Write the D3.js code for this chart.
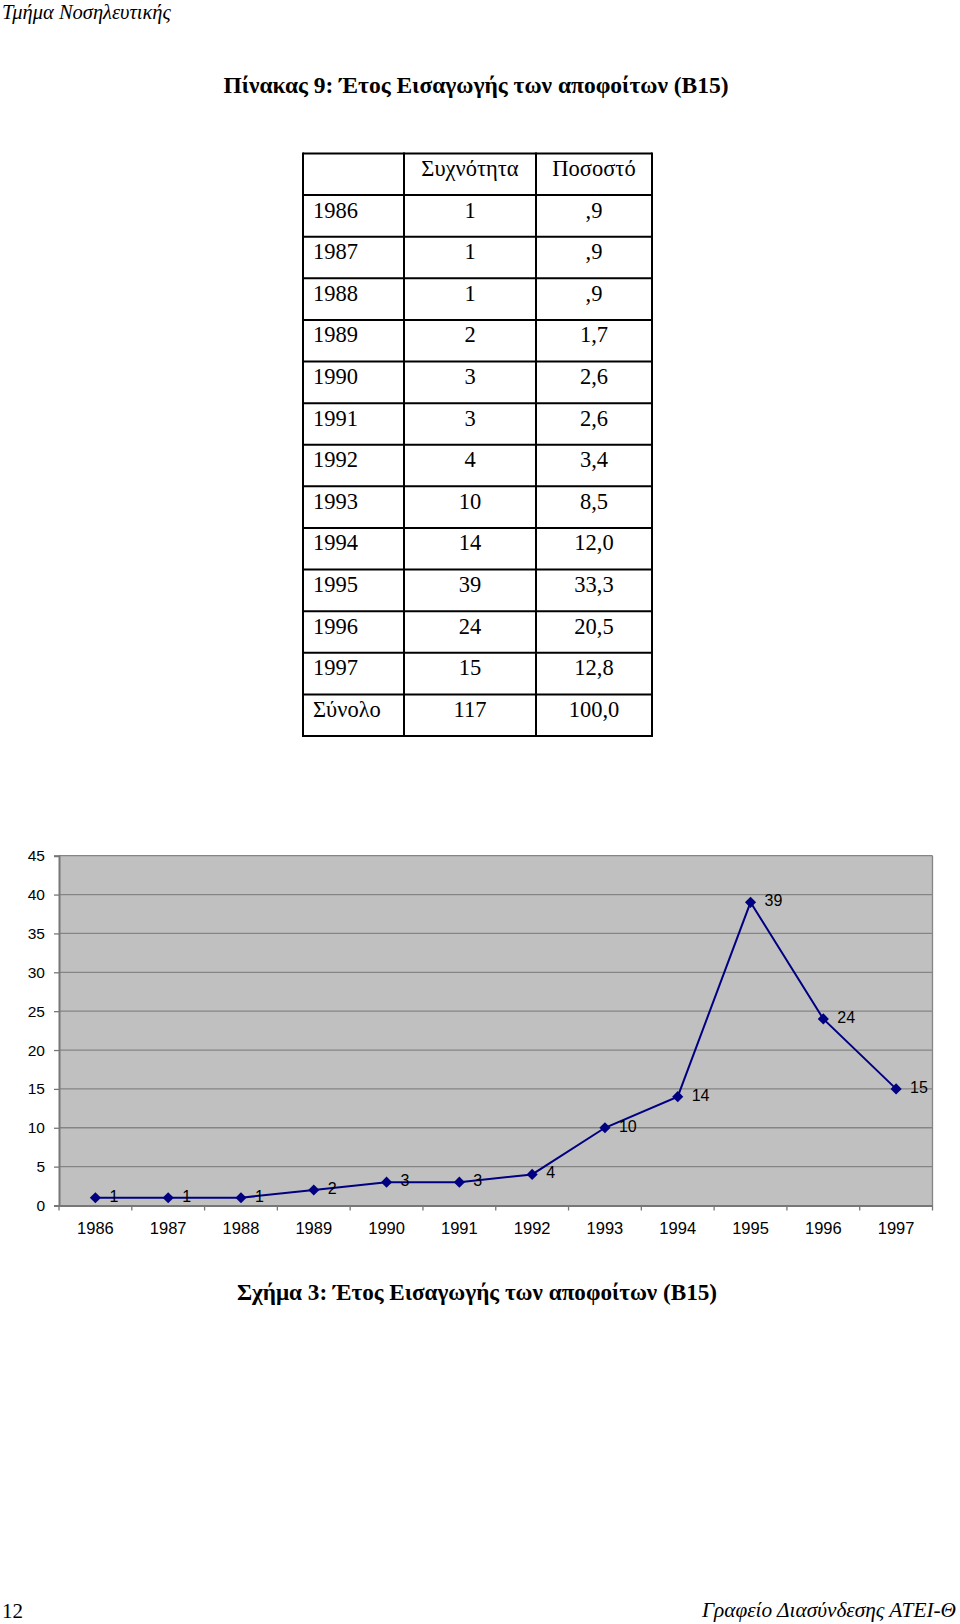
<!DOCTYPE html>
<html>
<head>
<meta charset="utf-8">
<script src="https://cdn.jsdelivr.net/npm/d3@7"></script>
<style>
  body { margin: 0; background: #fff; }
  svg { display: block; }
  .serif { font-family: "Liberation Serif", "Times New Roman", serif; }
  .sans { font-family: "Liberation Sans", Arial, sans-serif; }
</style>
</head>
<body>
<svg id="page" width="960" height="1624"></svg>
<script>
// data
const years = [1986, 1987, 1988, 1989, 1990, 1991, 1992, 1993, 1994, 1995, 1996, 1997];
const counts = [1, 1, 1, 2, 3, 3, 4, 10, 14, 39, 24, 15];
const percents = [0.9, 0.9, 0.9, 1.7, 2.6, 2.6, 3.4, 8.5, 12.0, 33.3, 20.5, 12.8];
const totalCount = 117;
const totalPercent = 100.0;
const tableHeader = ["", "Συχνότητα", "Ποσοστό"];
const totalLabel = "Σύνολο";
const yTicks = [0, 5, 10, 15, 20, 25, 30, 35, 40, 45];

const svg = d3.select("#page");
svg.append("rect").attr("width", 960).attr("height", 1624).attr("fill", "#fff");

// spss style number: ",9" / "12,0"
const fmtPct = v => d3.format(".1f")(v).replace(".", ",").replace(/^0,/, ",");

// page header / footer
svg.append("text").attr("class", "serif")
  .attr("x", 2).attr("y", 19)
  .attr("font-size", 20.5).attr("font-style", "italic")
  .text("Τμήμα Νοσηλευτικής");

svg.append("text").attr("class", "serif")
  .attr("x", 476).attr("y", 93)
  .attr("text-anchor", "middle")
  .attr("font-size", 23.5).attr("font-weight", "bold")
  .text("Πίνακας 9:  Έτος Εισαγωγής των αποφοίτων (Β15)");

svg.append("text").attr("class", "serif")
  .attr("x", 2).attr("y", 1618)
  .attr("font-size", 21)
  .text("12");

svg.append("text").attr("class", "serif")
  .attr("x", 956).attr("y", 1617)
  .attr("text-anchor", "end")
  .attr("font-size", 21.3).attr("font-style", "italic")
  .text("Γραφείο Διασύνδεσης ΑΤΕΙ-Θ");

// ---- table ----
const rows = [tableHeader]
  .concat(years.map((y, i) => [String(y), String(counts[i]), fmtPct(percents[i])]))
  .concat([[totalLabel, String(totalCount), fmtPct(totalPercent)]]);

const colEdges = [303, 404, 536, 652];
const rowY = d3.scaleBand().domain(d3.range(rows.length)).range([153.5, 736]);

const table = svg.append("g").attr("class", "serif").attr("font-size", 22.5);

const rowG = table.selectAll("g.row")
  .data(rows)
  .join("g")
  .attr("class", "row")
  .attr("transform", (d, i) => `translate(0,${rowY(i)})`);

rowG.each(function (row, ri) {
  const g = d3.select(this);
  row.forEach((txt, ci) => {
    const left = ci === 0 && ri > 0;
    g.append("text")
      .attr("x", left ? colEdges[0] + 10 : (colEdges[ci] + colEdges[ci + 1]) / 2)
      .attr("y", 22.5)
      .attr("text-anchor", left ? "start" : "middle")
      .attr("fill", "#000")
      .text(txt);
  });
});

// grid lines of the table
table.selectAll("line.h")
  .data(d3.range(rows.length + 1))
  .join("line")
  .attr("x1", colEdges[0]).attr("x2", colEdges[3])
  .attr("y1", i => i === rows.length ? rowY.range()[1] : rowY(i))
  .attr("y2", i => i === rows.length ? rowY.range()[1] : rowY(i))
  .attr("stroke", "#000").attr("stroke-width", 2);

table.selectAll("line.v")
  .data(colEdges)
  .join("line")
  .attr("x1", d => d).attr("x2", d => d)
  .attr("y1", rowY.range()[0] - 1).attr("y2", rowY.range()[1] + 1)
  .attr("stroke", "#000").attr("stroke-width", 2);

// ---- line chart ----
const x = d3.scaleBand().domain(years).range([59, 932.5]);
const y = d3.scaleLinear().domain([0, 45]).range([1205.5, 855.7]);

const chart = svg.append("g").attr("class", "sans");

chart.append("rect")
  .attr("x", x.range()[0]).attr("y", y(45))
  .attr("width", x.range()[1] - x.range()[0]).attr("height", y(0) - y(45))
  .attr("fill", "#c0c0c0");

chart.append("g")
  .selectAll("line")
  .data(yTicks.filter(t => t > 0))
  .join("line")
  .attr("x1", x.range()[0]).attr("x2", x.range()[1])
  .attr("y1", d => y(d)).attr("y2", d => y(d))
  .attr("stroke", "#858585").attr("stroke-width", 1.3);

// right border
chart.append("line")
  .attr("x1", x.range()[1]).attr("x2", x.range()[1])
  .attr("y1", y(45)).attr("y2", y(0))
  .attr("stroke", "#858585").attr("stroke-width", 1.3);

const yAxis = chart.append("g")
  .attr("transform", `translate(${x.range()[0]},0)`)
  .call(d3.axisLeft(y).tickValues(yTicks).tickSize(5).tickPadding(9));
yAxis.select(".domain").attr("stroke", "#777").attr("stroke-width", 2);
yAxis.selectAll(".tick line").attr("stroke", "#777").attr("stroke-width", 1.3);
yAxis.selectAll(".tick text").attr("font-size", 15.5).attr("fill", "#000")
  .attr("font-family", "Liberation Sans, Arial, sans-serif");

const xAxis = chart.append("g")
  .attr("transform", `translate(0,${y(0)})`)
  .call(d3.axisBottom(x).tickSize(0).tickPadding(17));
xAxis.select(".domain").attr("stroke", "#777").attr("stroke-width", 2);
xAxis.selectAll(".tick text").attr("font-size", 16.5).attr("fill", "#000")
  .attr("font-family", "Liberation Sans, Arial, sans-serif");

// category separators below the axis
chart.append("g")
  .selectAll("line")
  .data(years.concat([null]))
  .join("line")
  .attr("x1", (d, i) => x.range()[0] + i * x.step())
  .attr("x2", (d, i) => x.range()[0] + i * x.step())
  .attr("y1", y(0)).attr("y2", y(0) + 5)
  .attr("stroke", "#777").attr("stroke-width", 1.3);

const cx = d => x(d) + x.bandwidth() / 2;
const pts = years.map((yr, i) => ({ yr, v: counts[i] }));

chart.append("path")
  .datum(pts)
  .attr("fill", "none")
  .attr("stroke", "#000080")
  .attr("stroke-width", 2)
  .attr("d", d3.line().x(d => cx(d.yr)).y(d => y(d.v)));

chart.append("g")
  .selectAll("path")
  .data(pts)
  .join("path")
  .attr("d", d3.symbol(d3.symbolSquare, 62))
  .attr("transform", d => `translate(${cx(d.yr)},${y(d.v)}) rotate(45)`)
  .attr("fill", "#000080");

chart.append("g")
  .selectAll("text")
  .data(pts)
  .join("text")
  .attr("x", d => cx(d.yr) + 14)
  .attr("y", d => y(d.v) + 4)
  .attr("font-size", 16)
  .attr("fill", "#000")
  .text(d => d.v);

svg.append("text").attr("class", "serif")
  .attr("x", 477).attr("y", 1300)
  .attr("text-anchor", "middle")
  .attr("font-size", 23.2).attr("font-weight", "bold")
  .text("Σχήμα 3: Έτος Εισαγωγής των αποφοίτων (Β15)");
</script>
</body>
</html>
